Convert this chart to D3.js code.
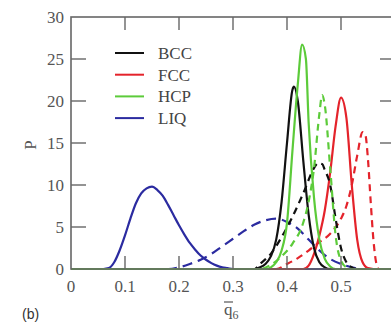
<!DOCTYPE html>
<html>
<head>
<meta charset="utf-8">
<script src="https://cdn.jsdelivr.net/npm/d3@7"></script>
<style>
    body { margin: 0; background: #fff; }
    #chart { width: 391px; height: 322px; overflow: hidden; }
    .tick-label { font-family: "Liberation Serif", "Times New Roman", serif; font-size: 17px; fill: #555; }
    .legend-label { font-family: "Liberation Serif", "Times New Roman", serif; font-size: 17px; fill: #444; }
</style>
</head>
<body>
<div id="chart"></div>
<script>

// q6 bar values and probabilities
let bccSolidX = [0, 0.34, 0.35, 0.36, 0.37, 0.38, 0.39, 0.40, 0.41, 0.413, 0.42, 0.43, 0.44, 0.45, 0.46, 0.47, 0.48, 0.6];
let bccSolidY = [0, 0, 0.2, 0.6, 1.5, 3.5, 8, 15, 21.3, 21.7, 20, 13, 6.5, 2.5, 0.8, 0.2, 0, 0];

let bccDashX = [0, 0.34, 0.35, 0.37, 0.39, 0.41, 0.43, 0.45, 0.457, 0.465, 0.47, 0.48, 0.49, 0.50, 0.51, 0.52, 0.53, 0.6];
let bccDashY = [0, 0, 0.6, 1.8, 3.8, 6.2, 9, 12, 12.6, 12.5, 11.8, 10, 6, 2.5, 0.8, 0.2, 0, 0];

let fccSolidX = [0, 0.43, 0.44, 0.45, 0.46, 0.47, 0.48, 0.49, 0.50, 0.51, 0.52, 0.53, 0.54, 0.55, 0.56, 0.6];
let fccSolidY = [0, 0, 0.4, 1.8, 4, 7, 11.5, 17, 20.4, 18, 10, 3.5, 0.8, 0.1, 0, 0];

let fccDashX = [0, 0.38, 0.40, 0.42, 0.44, 0.46, 0.48, 0.50, 0.51, 0.52, 0.53, 0.54, 0.545, 0.55, 0.555, 0.56, 0.565, 0.57, 0.6];
let fccDashY = [0, 0, 0.6, 1.3, 2.2, 3.2, 4.2, 6, 7.5, 10, 13.5, 16.3, 16, 13, 8, 3.5, 0.8, 0, 0];

let hcpSolidX = [0, 0.36, 0.37, 0.38, 0.39, 0.40, 0.41, 0.42, 0.428, 0.435, 0.44, 0.45, 0.46, 0.47, 0.48, 0.49, 0.6];
let hcpSolidY = [0, 0, 0.2, 0.8, 2.2, 5.5, 14, 22, 26.7, 25, 17.5, 8.5, 3.5, 1.2, 0.3, 0, 0];

let hcpDashX = [0, 0.35, 0.37, 0.39, 0.41, 0.43, 0.44, 0.45, 0.46, 0.465, 0.47, 0.48, 0.49, 0.50, 0.51, 0.52, 0.6];
let hcpDashY = [0, 0, 0.5, 1.5, 3, 5.5, 8, 12, 18.5, 20.7, 19.5, 12, 4, 1, 0.2, 0, 0];

let liqSolidX = [0, 0.06, 0.07, 0.08, 0.09, 0.10, 0.11, 0.12, 0.13, 0.14, 0.15, 0.16, 0.17, 0.18, 0.19, 0.20, 0.21, 0.22, 0.23, 0.24, 0.25, 0.26, 0.27, 0.28, 0.29, 0.30, 0.6];
let liqSolidY = [0, 0, 0.1, 0.8, 2.2, 4, 6, 7.8, 9, 9.6, 9.8, 9.4, 8.7, 7.6, 6.4, 5.2, 4.1, 3.1, 2.3, 1.6, 1.1, 0.7, 0.4, 0.2, 0.1, 0, 0];

let liqDashX = [0, 0.18, 0.20, 0.22, 0.24, 0.26, 0.28, 0.30, 0.32, 0.34, 0.36, 0.38, 0.40, 0.42, 0.44, 0.46, 0.48, 0.50, 0.52, 0.54, 0.6];
let liqDashY = [0, 0, 0.2, 0.6, 1.1, 1.8, 2.7, 3.6, 4.5, 5.3, 5.8, 6.0, 5.6, 4.8, 3.5, 2.2, 1.2, 0.6, 0.2, 0, 0];

let legendNames = ["BCC", "FCC", "HCP", "LIQ"];
let legendColors = ["#111111", "#e4232b", "#5ccb3a", "#2b2ba0"];

let xTicks = [0, 0.1, 0.2, 0.3, 0.4, 0.5];
let yTicks = [0, 5, 10, 15, 20, 25, 30];

let series = [
    {x: liqDashX, y: liqDashY, color: legendColors[3], dash: "10,6"},
    {x: liqSolidX, y: liqSolidY, color: legendColors[3], dash: null},
    {x: fccDashX, y: fccDashY, color: legendColors[1], dash: "7,5"},
    {x: fccSolidX, y: fccSolidY, color: legendColors[1], dash: null},
    {x: bccDashX, y: bccDashY, color: legendColors[0], dash: "7,5"},
    {x: bccSolidX, y: bccSolidY, color: legendColors[0], dash: null},
    {x: hcpDashX, y: hcpDashY, color: legendColors[2], dash: "7,5"},
    {x: hcpSolidX, y: hcpSolidY, color: legendColors[2], dash: null}
];

let width = 391, height = 322;

let svg = d3.select("#chart").append("svg")
    .attr("width", width)
    .attr("height", height);

let x = d3.scaleLinear().domain([0, 0.6]).range([71, 395]);
let y = d3.scaleLinear().domain([0, 30]).range([269, 17]);

let axisColor = "#666";
let tickLen = 13;

// curves
let line = d3.line()
    .x(d => x(d[0]))
    .y(d => y(d[1]))
    .curve(d3.curveMonotoneX);

svg.append("g").selectAll("path")
    .data(series)
    .enter().append("path")
    .attr("d", s => line(s.x.map((v, i) => [v, s.y[i]])))
    .attr("fill", "none")
    .attr("stroke", s => s.color)
    .attr("stroke-width", 2.2)
    .attr("stroke-dasharray", s => s.dash);

// frame + ticks
let frame = svg.append("g");

frame.append("rect")
    .attr("x", x(0))
    .attr("y", y(30))
    .attr("width", x(0.6) - x(0))
    .attr("height", y(0) - y(30))
    .attr("fill", "none")
    .attr("stroke", axisColor)
    .attr("stroke-width", 1.6);

let xInner = xTicks.filter(d => d > 0);
let yInner = yTicks.filter(d => d > 0 && d < 30);

frame.selectAll(".xt-bot").data(xInner).enter().append("line")
    .attr("x1", d => x(d)).attr("x2", d => x(d))
    .attr("y1", y(0)).attr("y2", y(0) - tickLen)
    .attr("stroke", axisColor).attr("stroke-width", 1.4);

frame.selectAll(".xt-top").data(xInner).enter().append("line")
    .attr("x1", d => x(d)).attr("x2", d => x(d))
    .attr("y1", y(30)).attr("y2", y(30) + tickLen)
    .attr("stroke", axisColor).attr("stroke-width", 1.4);

frame.selectAll(".yt-left").data(yInner).enter().append("line")
    .attr("x1", x(0)).attr("x2", x(0) + tickLen + 2)
    .attr("y1", d => y(d)).attr("y2", d => y(d))
    .attr("stroke", axisColor).attr("stroke-width", 1.4);

frame.selectAll(".yt-right").data(yInner).enter().append("line")
    .attr("x1", x(0.6)).attr("x2", x(0.6) - tickLen - 2)
    .attr("y1", d => y(d)).attr("y2", d => y(d))
    .attr("stroke", axisColor).attr("stroke-width", 1.4);

// tick labels
svg.selectAll(".xl").data(xTicks).enter().append("text")
    .attr("class", "tick-label")
    .attr("x", d => x(d))
    .attr("y", 292)
    .attr("text-anchor", "middle")
    .text(d => d === 0 ? "0" : d3.format(".1f")(d));

svg.selectAll(".yl").data(yTicks).enter().append("text")
    .attr("class", "tick-label")
    .attr("x", 64)
    .attr("y", d => y(d) + 6)
    .attr("text-anchor", "end")
    .text(d => d);

// axis titles
svg.append("text")
    .attr("class", "tick-label")
    .attr("transform", "translate(36,145) rotate(-90)")
    .attr("text-anchor", "middle")
    .text("P");

let xt = svg.append("text")
    .attr("class", "tick-label")
    .attr("x", 224)
    .attr("y", 315);
xt.append("tspan").text("q");
xt.append("tspan").attr("font-size", 12).attr("dy", 4).text("6");

svg.append("line")
    .attr("x1", 224).attr("x2", 233)
    .attr("y1", 302).attr("y2", 302)
    .attr("stroke", "#555").attr("stroke-width", 1.2);

svg.append("text")
    .attr("x", 22)
    .attr("y", 319)
    .attr("font-family", "Arial, 'Liberation Sans', sans-serif")
    .attr("font-size", 14)
    .attr("fill", "#333")
    .text("(b)");

// legend
let legend = svg.append("g");
legendNames.forEach((name, i) => {
    let ly = 53 + i * 21.7;
    legend.append("line")
        .attr("x1", 115).attr("x2", 144)
        .attr("y1", ly).attr("y2", ly)
        .attr("stroke", legendColors[i])
        .attr("stroke-width", 2);
    legend.append("text")
        .attr("class", "legend-label")
        .attr("x", 158)
        .attr("y", ly + 6)
        .text(name);
});

</script>
</body>
</html>
